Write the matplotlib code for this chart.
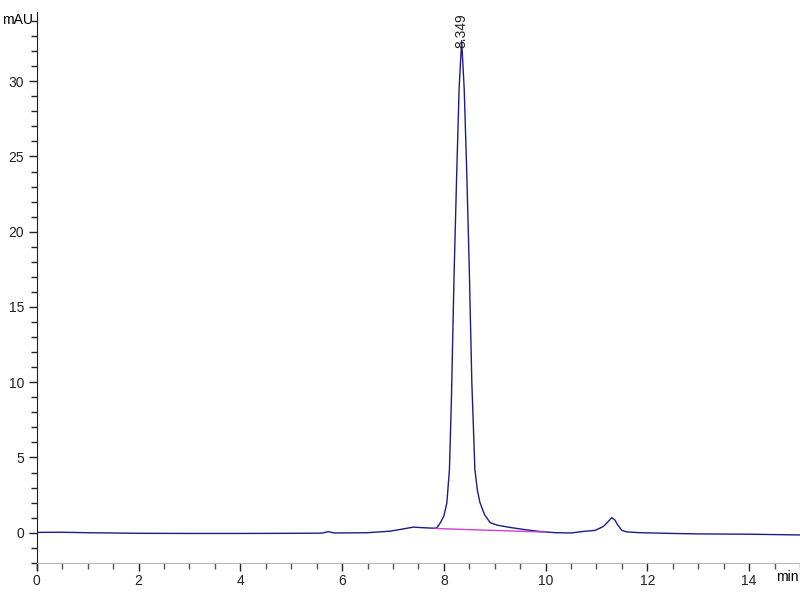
import matplotlib
matplotlib.use('Agg')
import matplotlib.pyplot as plt
from matplotlib.ticker import MultipleLocator

plt.rcParams['font.family'] = ['Liberation Sans Narrow', 'Liberation Sans', 'DejaVu Sans']

# chromatogram (retention time in min, signal in mAU)
rt_min = [0.0, 0.5, 1.0, 1.5, 2.0, 3.0, 4.0, 5.0, 5.6, 5.73, 5.85, 6.5, 6.94,
          7.2, 7.4, 7.6, 7.8, 7.86, 7.93, 8.00, 8.06, 8.11, 8.15, 8.20, 8.25,
          8.30, 8.35, 8.40, 8.45, 8.50, 8.55, 8.61, 8.66, 8.71, 8.80, 8.91,
          9.05, 9.30, 9.60, 9.89, 10.2, 10.5, 10.78, 10.97, 11.13, 11.22,
          11.30, 11.36, 11.42, 11.50, 11.60, 11.86, 12.5, 13.0, 14.0, 15.0]
signal_mau = [0.02, 0.03, 0.0, -0.02, -0.04, -0.05, -0.05, -0.04, -0.03, 0.07,
              -0.02, 0.0, 0.1, 0.25, 0.37, 0.33, 0.30, 0.32, 0.65, 1.1, 2.0,
              4.2, 9.0, 17.0, 23.5, 29.5, 32.7, 29.5, 24.0, 17.5, 10.0, 4.2,
              2.8, 2.0, 1.2, 0.67, 0.5, 0.35, 0.2, 0.08, 0.0, -0.02, 0.1, 0.15,
              0.4, 0.7, 1.0, 0.85, 0.5, 0.15, 0.05, 0.0, -0.05, -0.08, -0.1,
              -0.15]

# integration baseline under the main peak
base_t = [7.83, 9.99]
base_v = [0.28, 0.04]

peak_rt = 8.349
peak_label = '8.349'

fig = plt.figure(figsize=(8, 6), dpi=100)
ax = fig.add_axes([0.046, 0.062, 0.954, 0.918])

ax.plot(rt_min, signal_mau, color='#1c1c88', lw=1.0)
ax.plot(base_t, base_v, color='#d040d0', lw=1.0)
ax.text(peak_rt, 32.2, peak_label, rotation=90, ha='center', va='bottom',
        fontsize=10, color='#222222')

ax.set_xlim(0, 15.0)
ax.set_ylim(-2.0, 34.6)

ax.xaxis.set_major_locator(MultipleLocator(2))
ax.xaxis.set_minor_locator(MultipleLocator(0.5))
ax.yaxis.set_major_locator(MultipleLocator(5))
ax.yaxis.set_minor_locator(MultipleLocator(1))

for s in ['top', 'right']:
    ax.spines[s].set_visible(False)
ax.spines['bottom'].set_color('#b8b8b8')
ax.spines['left'].set_color('#222222')

ax.tick_params(axis='y', which='major', length=6, width=1, colors='#222222',
               labelsize=10, pad=3)
ax.tick_params(axis='y', which='minor', length=4, width=1, colors='#222222')
ax.tick_params(axis='x', which='major', length=6, width=1, colors='#222222',
               labelsize=10, pad=2)
ax.tick_params(axis='x', which='minor', length=4, width=1, colors='#555555')

# left axis runs a bit below the time axis
ax.plot([0, 0], [-2.0, -2.5], color='#222222', lw=1, clip_on=False)

fig.text(0.003, 0.967, 'mAU', fontsize=10, ha='left', va='center')
fig.text(0.998, 0.038, 'min', fontsize=10, ha='right', va='center')

fig.savefig('out.png', dpi=100)
